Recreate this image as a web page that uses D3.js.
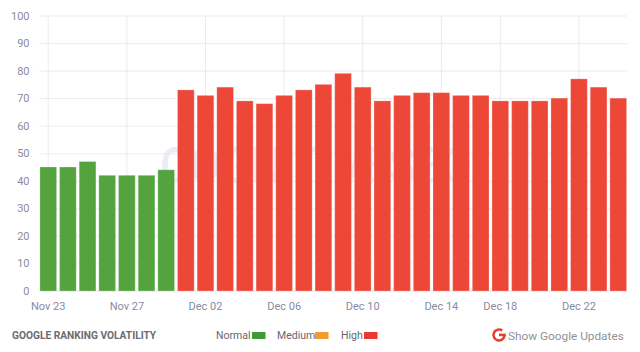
<!DOCTYPE html>
<html>
<head>
<meta charset="utf-8">
<script src="https://cdn.jsdelivr.net/npm/d3@7"></script>
<style>
  html, body { margin: 0; padding: 0; background: #fff; }
  svg { display: block; font-family: Roboto, sans-serif; }
  .gridline line { stroke: #ebebef; }
  .gridline path { display: none; }
  .axis path, .axis line { display: none; }
  .axis text { fill: #8a8aa3; font-size: 11px; font-family: Roboto, sans-serif; }
</style>
</head>
<body>
<div id="chart"></div>
<script>
const days = ['Nov 23', 'Nov 24', 'Nov 25', 'Nov 26', 'Nov 27', 'Nov 28', 'Nov 29', 'Nov 30',
  'Dec 02', 'Dec 03', 'Dec 04', 'Dec 05', 'Dec 06', 'Dec 07', 'Dec 08', 'Dec 09',
  'Dec 10', 'Dec 11', 'Dec 12', 'Dec 13', 'Dec 14', 'Dec 15', 'Dec 16', 'Dec 18',
  'Dec 19', 'Dec 20', 'Dec 21', 'Dec 22', 'Dec 23', 'Dec 24'];
const volatility = [45, 45, 47, 42, 42, 42, 44, 73, 71, 74, 69, 68, 71, 73, 75, 79,
  74, 69, 71, 72, 72, 71, 71, 69, 69, 69, 70, 77, 74, 70];
const levels = ['Normal', 'Medium', 'High'];
const dayTicks = ['Nov 23', 'Nov 27', 'Dec 02', 'Dec 06', 'Dec 10', 'Dec 14', 'Dec 18', 'Dec 22'];
const yTicks = [0, 10, 20, 30, 40, 50, 60, 70, 80, 90, 100];

const W = 640, H = 352;
const M = { t: 15.5, r: 13, b: 61, l: 39.5 };
const barColor = d => d < 50 ? '#54a33f' : '#ec4737';
const levelColor = { Normal: '#3f9c35', Medium: '#f49a35', High: '#ea3a2e' };

const svg = d3.select('#chart').append('svg')
  .attr('width', W)
  .attr('height', H);

const x = d3.scaleBand()
  .domain(days)
  .range([M.l, W - M.r])
  .paddingInner(0.15)
  .paddingOuter(0.02);
const y = d3.scaleLinear()
  .domain([0, 100])
  .range([H - M.b, M.t]);

svg.append('g').attr('class', 'gridline')
  .attr('transform', `translate(${M.l},0)`)
  .call(d3.axisLeft(y).tickValues(yTicks).tickSize(-(W - M.l - M.r)).tickFormat(''));

svg.append('g').attr('class', 'gridline')
  .attr('transform', `translate(0,${H - M.b})`)
  .call(d3.axisBottom(x).tickValues(dayTicks).tickSize(-(H - M.t - M.b)).tickFormat(''));

// watermark behind the bars
svg.append('text')
  .attr('x', 160)
  .attr('y', 183)
  .attr('fill', '#e9ecf5')
  .attr('textLength', 312)
  .attr('lengthAdjust', 'spacingAndGlyphs')
  .style('font-size', '50px')
  .style('font-weight', 500)
  .text('COGNITIVESEO');

svg.selectAll('rect.bar')
  .data(volatility)
  .enter().append('rect')
  .attr('class', 'bar')
  .attr('x', (d, i) => x(days[i]))
  .attr('width', x.bandwidth())
  .attr('y', d => y(d))
  .attr('height', d => y(0) - y(d))
  .attr('fill', barColor)
  .attr('stroke', '#fff')
  .attr('stroke-opacity', 0.25);

svg.append('g').attr('class', 'axis')
  .attr('transform', `translate(${M.l - 10},0)`)
  .call(d3.axisLeft(y).tickValues(yTicks).tickSize(0).tickPadding(0));

svg.append('g').attr('class', 'axis')
  .attr('transform', `translate(0,${H - M.b + 11})`)
  .call(d3.axisBottom(x).tickValues(dayTicks).tickSize(0).tickPadding(0));

// footer
svg.append('text')
  .attr('x', 12)
  .attr('y', 339)
  .attr('fill', '#6b6b70')
  .style('font-size', '10.2px')
  .style('font-weight', 700)
  .text('GOOGLE RANKING VOLATILITY');

const legendX = { Normal: 216, Medium: 277, High: 341 };
const swatchX = { Normal: 252, Medium: 315, High: 364 };
levels.forEach(l => {
  svg.append('text')
    .attr('x', legendX[l])
    .attr('y', 339)
    .attr('fill', '#66666c')
    .style('font-size', '10.5px')
    .text(l);
  svg.append('rect')
    .attr('x', swatchX[l])
    .attr('y', 332)
    .attr('width', 13.5)
    .attr('height', 7)
    .attr('fill', levelColor[l]);
});

// google logo
const gLogo = svg.append('g').attr('transform', 'translate(499,335)').attr('fill', '#e8402f');
gLogo.append('path')
  .attr('d', d3.arc()({ innerRadius: 4.2, outerRadius: 6.8, startAngle: Math.PI / 2, endAngle: 2 * Math.PI + Math.PI / 5 }));
gLogo.append('rect')
  .attr('x', 0)
  .attr('y', -1.4)
  .attr('width', 6.8)
  .attr('height', 2.6);

svg.append('text')
  .attr('x', 508)
  .attr('y', 340)
  .attr('fill', '#8e929a')
  .style('font-size', '11.8px')
  .text('Show Google Updates');
</script>
</body>
</html>
